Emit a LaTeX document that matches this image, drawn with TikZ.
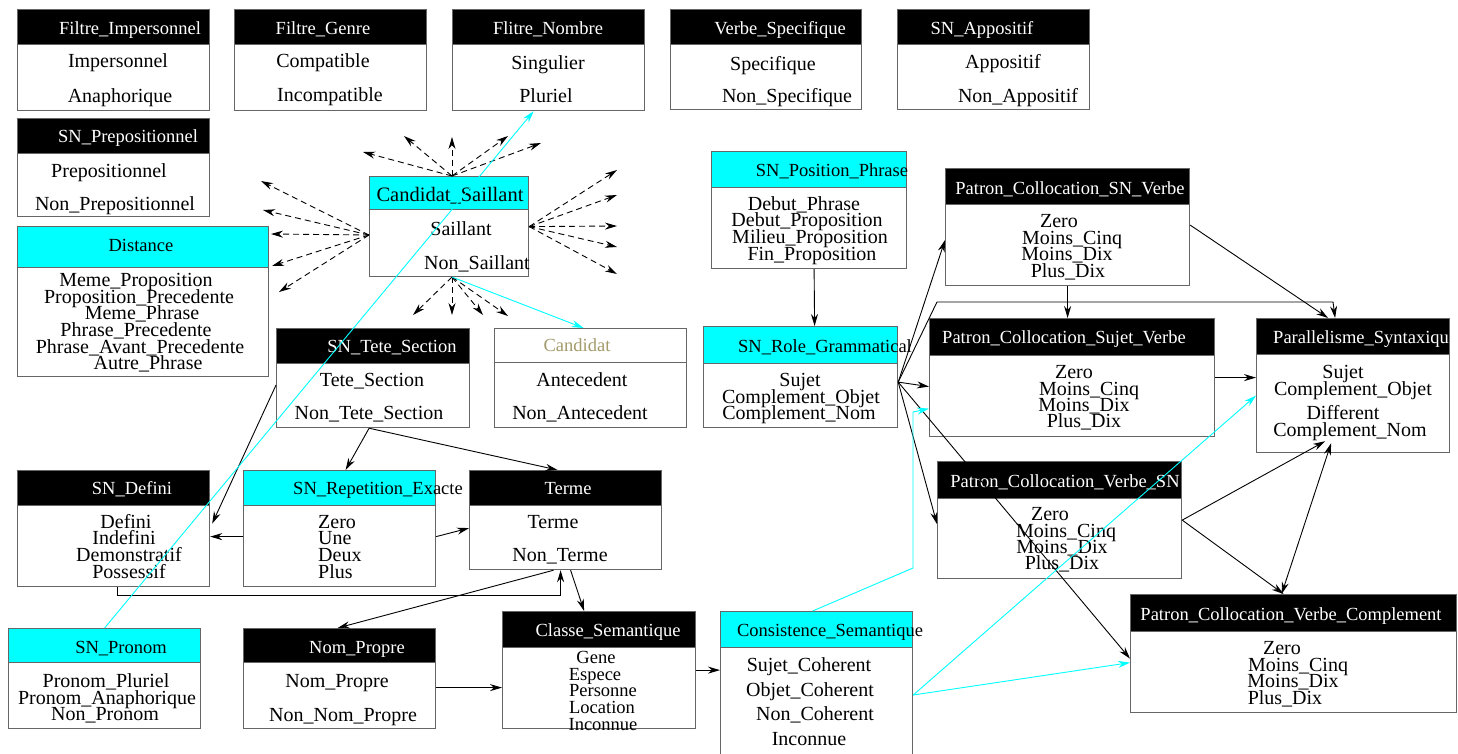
\documentclass[tikz,border=0pt]{standalone}
\usepackage{fontspec}
\setmainfont{Liberation Serif}
\usetikzlibrary{arrows.meta,calc}
\definecolor{candolive}{RGB}{163,155,107}
\definecolor{aqua}{RGB}{0,255,255}

% frame of one class box with its header band
\newcommand{\umlclass}[7]{%
  \node[boxframe, minimum width=#4, minimum height=#5] (#1) at (#2,#3) {};
  \node[#7, minimum width=#4, minimum height=#6] (#1-head) at (#2,#3) {};
}

\begin{document}
\begin{tikzpicture}[x=1pt,y=1pt,yscale=-1,
    boxframe/.style={draw=black!60,line width=1.2pt,fill=white,anchor=north west,inner sep=0pt},
    headblack/.style={boxframe,fill=black},
    headcyan/.style={boxframe,fill=aqua},
    headwhite/.style={boxframe,fill=white},
    title/.style={inner sep=0pt,font=\fontsize{18.5}{18.5}\selectfont,text height=17pt,text depth=4pt},
    titlew/.style={title,text=white},
    item/.style={inner sep=0pt,font=\fontsize{20}{20}\selectfont,text height=18pt,text depth=4pt},
    smallitem/.style={item,font=\fontsize{18.5}{18.5}\selectfont},
    link/.style={-{Stealth[length=12pt,width=7pt]},line width=0.9pt},
    cyanlink/.style={link,draw=aqua},
    fanlink/.style={link,dash pattern=on 6pt off 4pt},
  ]
  \useasboundingbox (0,0) rectangle (1458,753);

  %Shape: class boxes
  \umlclass{fimp}{17}{9}{192}{101}{35}{headblack}
  \umlclass{fgen}{234}{9}{192}{101}{35}{headblack}
  \umlclass{fnom}{452}{9}{192}{101}{35}{headblack}
  \umlclass{vspec}{670}{9}{191}{100}{35}{headblack}
  \umlclass{sapp}{897}{9}{192}{100}{35}{headblack}
  \umlclass{sprep}{17}{118}{192}{98}{35}{headblack}
  \umlclass{dist}{17}{226}{251}{150}{41}{headcyan}
  \umlclass{csail}{369}{176}{159}{100}{33}{headcyan}
  \umlclass{tete}{276}{328}{193}{99}{35}{headblack}
  \umlclass{cand}{494}{328}{192}{99}{34}{headwhite}
  \umlclass{defini}{17}{470}{192}{116}{35}{headblack}
  \umlclass{repet}{243}{470}{192}{116}{35}{headcyan}
  \umlclass{terme}{469}{470}{192}{99}{35}{headblack}
  \umlclass{pronom}{8}{628}{192}{100}{34}{headcyan}
  \umlclass{nompr}{243}{628}{192}{100}{34}{headblack}
  \umlclass{classe}{502}{611}{193}{117}{36}{headblack}
  \umlclass{consis}{720}{611}{192}{150}{36}{headcyan}
  \umlclass{spos}{711}{151}{195}{117}{36}{headcyan}
  \umlclass{role}{703}{326}{194}{101}{37}{headcyan}
  \umlclass{psnv}{945}{168}{244}{117}{36}{headblack}
  \umlclass{psv}{929}{318}{285}{118}{37}{headblack}
  \umlclass{para}{1256}{318}{193}{134}{36}{headblack}
  \umlclass{pvsn}{937}{461}{244}{117}{37}{headblack}
  \umlclass{pvc}{1130}{594}{326}{118}{37}{headblack}

  % Text Node
  \node[titlew] (fimp-t) at (130,28) {Filtre\_Impersonnel};
  \foreach \txt/\px/\py [count=\i] in {Impersonnel/118/60,Anaphorique/120/95}
    \node[item] (fimp-\i) at (\px,\py) {\txt};
  % Text Node
  \node[titlew] (fgen-t) at (323,28) {Filtre\_Genre};
  \foreach \txt/\px/\py [count=\i] in {Compatible/323/60,Incompatible/330/94}
    \node[item] (fgen-\i) at (\px,\py) {\txt};
  % Text Node
  \node[titlew] (fnom-t) at (548,28) {Flitre\_Nombre};
  \foreach \txt/\px/\py [count=\i] in {Singulier/548/62,Pluriel/546/95}
    \node[item] (fnom-\i) at (\px,\py) {\txt};
  % Text Node
  \node[titlew] (vspec-t) at (780,28) {Verbe\_Specifique};
  \foreach \txt/\px/\py [count=\i] in {Specifique/773/63,Non\_Specifique/787/95}
    \node[item] (vspec-\i) at (\px,\py) {\txt};
  % Text Node
  \node[titlew] (sapp-t) at (982,28) {SN\_Appositif};
  \foreach \txt/\px/\py [count=\i] in {Appositif/1003/61,Non\_Appositif/1018/95}
    \node[item] (sapp-\i) at (\px,\py) {\txt};
  % Text Node
  \node[titlew] (sprep-t) at (128,136) {SN\_Prepositionnel};
  \foreach \txt/\px/\py [count=\i] in {Prepositionnel/109/170,Non\_Prepositionnel/115/203}
    \node[item] (sprep-\i) at (\px,\py) {\txt};
  % Text Node
  \node[title] (dist-t) at (141,245) {Distance};
  \foreach \txt/\px/\py [count=\i] in {Meme\_Proposition/136/279,Proposition\_Precedente/139/296,
      Meme\_Phrase/142/312,Phrase\_Precedente/136/329,Phrase\_Avant\_Precedente/140/346,Autre\_Phrase/148/362}
    \node[item] (dist-\i) at (\px,\py) {\txt};
  % Text Node
  \node[item,font=\fontsize{20.5}{20.5}\selectfont] (csail-t) at (450,194) {Candidat\_Saillant};
  \foreach \txt/\px/\py [count=\i] in {Saillant/461/228,Non\_Saillant/477/262}
    \node[item] (csail-\i) at (\px,\py) {\txt};
  % Text Node
  \node[titlew] (tete-t) at (392,346) {SN\_Tete\_Section};
  \foreach \txt/\px/\py [count=\i] in {Tete\_Section/372/379,Non\_Tete\_Section/369/412}
    \node[item] (tete-\i) at (\px,\py) {\txt};
  % Text Node
  \node[title,text=candolive] (cand-t) at (577,345) {Candidat};
  \foreach \txt/\px/\py [count=\i] in {Antecedent/582/379,Non\_Antecedent/580/412}
    \node[item] (cand-\i) at (\px,\py) {\txt};
  % Text Node
  \node[titlew] (defini-t) at (132,488) {SN\_Defini};
  \foreach \txt/\px/\py [count=\i] in {Defini/126/521,Indefini/124/537,Demonstratif/129/554,Possessif/129/571}
    \node[item] (defini-\i) at (\px,\py) {\txt};
  % Text Node
  \node[title] (repet-t) at (378,488) {SN\_Repetition\_Exacte};
  \foreach \txt/\py [count=\i] in {Zero/521,Une/537,Deux/554,Plus/571}
    \node[item,anchor=west] (repet-\i) at (318,\py) {\txt};
  % Text Node
  \node[titlew] (terme-t) at (568,488) {Terme};
  \foreach \txt/\px/\py [count=\i] in {Terme/553/521,Non\_Terme/560/554}
    \node[item] (terme-\i) at (\px,\py) {\txt};
  % Text Node
  \node[title] (pronom-t) at (121,647) {SN\_Pronom};
  \foreach \txt/\px/\py [count=\i] in {Pronom\_Pluriel/106/680,Pronom\_Anaphorique/107/697,Non\_Pronom/105/713}
    \node[item] (pronom-\i) at (\px,\py) {\txt};
  % Text Node
  \node[titlew] (nompr-t) at (357,647) {Nom\_Propre};
  \foreach \txt/\px/\py [count=\i] in {Nom\_Propre/337/680,Non\_Nom\_Propre/343/714}
    \node[item] (nompr-\i) at (\px,\py) {\txt};
  % Text Node
  \node[titlew] (classe-t) at (608,630) {Classe\_Semantique};
  \foreach \txt/\px/\py [count=\i] in {Gene/596/656,Espece/595/673,Personne/603/689,Location/602/706,Inconnue/603/723}
    \node[smallitem] (classe-\i) at (\px,\py) {\txt};
  % Text Node
  \node[title] (consis-t) at (830,630) {Consistence\_Semantique};
  \foreach \txt/\px/\py [count=\i] in {Sujet\_Coherent/809/664,Objet\_Coherent/810/689,Non\_Coherent/815/713,Inconnue/809/738}
    \node[item] (consis-\i) at (\px,\py) {\txt};
  % Text Node
  \node[title] (spos-t) at (832,170) {SN\_Position\_Phrase};
  \foreach \txt/\px/\py [count=\i] in {Debut\_Phrase/804/203,Debut\_Proposition/807/219,Milieu\_Proposition/810/236,Fin\_Proposition/812/253}
    \node[item] (spos-\i) at (\px,\py) {\txt};
  % Text Node
  \node[title] (role-t) at (825,346) {SN\_Role\_Grammatical};
  \foreach \txt/\px/\py [count=\i] in {Sujet/800/379,Complement\_Objet/801/396,Complement\_Nom/799/412}
    \node[item] (role-\i) at (\px,\py) {\txt};
  % Text Node
  \node[titlew] (psnv-t) at (1070,188) {Patron\_Collocation\_SN\_Verbe};
  \foreach \txt/\px/\py [count=\i] in {Zero/1059/220,Moins\_Cinq/1072/237,Moins\_Dix/1067/253,Plus\_Dix/1068/270}
    \node[item] (psnv-\i) at (\px,\py) {\txt};
  % Text Node
  \node[titlew] (psv-t) at (1064,337) {Patron\_Collocation\_Sujet\_Verbe};
  \foreach \txt/\px/\py [count=\i] in {Zero/1074/371,Moins\_Cinq/1089/388,Moins\_Dix/1084/404,Plus\_Dix/1084/420}
    \node[item] (psv-\i) at (\px,\py) {\txt};
  % Text Node
  \node[titlew,anchor=west] (para-t) at (1273,337) {Parallelisme\_Syntaxiqu};
  \foreach \txt/\px/\py [count=\i] in {Sujet/1343/371,Complement\_Objet/1353/388,Different/1343/412,Complement\_Nom/1350/429}
    \node[item] (para-\i) at (\px,\py) {\txt};
  % Text Node
  \node[titlew] (pvsn-t) at (1065,481) {Patron\_Collocation\_Verbe\_SN};
  \foreach \txt/\px/\py [count=\i] in {Zero/1050/513,Moins\_Cinq/1066/530,Moins\_Dix/1062/546,Plus\_Dix/1062/562}
    \node[item] (pvsn-\i) at (\px,\py) {\txt};
  % Text Node
  \node[titlew] (pvc-t) at (1291,614) {Patron\_Collocation\_Verbe\_Complement};
  \foreach \txt/\px/\py [count=\i] in {Zero/1282/647,Moins\_Cinq/1298/664,Moins\_Dix/1293/680,Plus\_Dix/1285/697}
    \node[item] (pvc-\i) at (\px,\py) {\txt};

  %Dashed fans round Candidat_Saillant
  \coordinate (csail-top) at (452,176);
  \coordinate (csail-left) at (369,235);
  \coordinate (csail-bot) at (452,277);
  \foreach \px/\py [count=\i] in {363/152,404/136,452/137,508/136,541/143} {
    \coordinate (fantop-\i) at (\px,\py);
    \draw[fanlink] (csail-top) -- (fantop-\i);
  }
  \foreach \px/\py [count=\i] in {261/181,263/210,271/234,272/266,279/292} {
    \coordinate (fanleft-\i) at (\px,\py);
    \draw[fanlink] (csail-left) -- (fanleft-\i);
  }
  \foreach \px/\py [count=\i] in {617/170,617/195,617/226,617/247,617/274} {
    \coordinate (fanright-\i) at (\px,\py);
    \draw[fanlink] (csail.east) -- (fanright-\i);
  }
  \foreach \px/\py [count=\i] in {413/315,452/315,483/315,508/316} {
    \coordinate (fanbot-\i) at (\px,\py);
    \draw[fanlink] (csail-bot) -- (fanbot-\i);
  }

  %Straight Lines
  \coordinate (role-out) at ($(role.east)+(0,5)$);
  \coordinate (tete-out) at ($(tete.south)+(-4,0)$);
  \coordinate (nompr-out) at ($(nompr.east)+(0,9)$);
  \draw[link] ($(spos.south)+(5,0)$) -- ($(role.north)+(14,0)$);
  \draw[link] (role-out) -- ($(psnv.west)+(0,13)$);
  \draw[link] (role-out) -- (937,302) -- (1333,302) -- ($(para.north)+(-18,0)$);
  \draw[link] (role-out) -- ($(psv.west)+(0,9)$);
  \draw[link] (role-out) -- ($(pvsn.west)+(0,4)$);
  \draw[link] (role-out) -- ($(pvc.west)+(0,5)$);
  \draw[link] (psnv.south) -- (psnv.south |- psv.north);
  \draw[link] ($(psnv.east)+(0,-2)$) -- ($(para.north)+(-25,0)$);
  \draw[link] (psv.east) -- (para.west |- psv.east);
  \draw[link] (pvsn.east) -- ($(para.south)+(-28,-12)$);
  \draw[link] (pvsn.east) -- ($(pvc.north)+(-10,0)$);
  \draw[link,{Stealth[length=12pt,width=7pt]}-{Stealth[length=12pt,width=7pt]}] ($(pvc.north)+(-12,0)$) -- ($(para.south)+(-22,-10)$);
  \draw[link] (tete-out) -- ($(repet.north)+(6,0)$);
  \draw[link] (tete-out) -- ($(terme.north)+(-8,0)$);
  \draw[link] ($(tete.west)+(0,7)$) -- ($(defini.east)+(2,-5)$);
  \draw[link] ($(repet.west)+(0,8)$) -- ($(defini.east)+(0,8)$);
  \draw[link] ($(repet.east)+(0,8)$) -- ($(terme.west)+(0,8)$);
  \draw[link] ($(defini.south)+(4,0)$) -- ++(0,8) -| ($(terme.south)+(-5,0)$);
  \draw[link] ($(terme.south)+(-12,0)$) -- ($(nompr.north)+(-2,0)$);
  \draw[link] ($(terme.south)+(5,0)$) -- ($(classe.north)+(-15,0)$);
  \draw[link] (nompr-out) -- (classe.west |- nompr-out);
  \draw[link] (classe.east) -- (consis.west |- classe.east);

  %Cyan Lines
  \coordinate (consis-out) at ($(consis.north east)+(0,84)$);
  \draw[cyanlink] (pronom.north) -- ($(fnom.south)+(-15,0)$);
  \draw[cyanlink] (csail-bot) -- ($(cand.north)+(-7,0)$);
  \draw[cyanlink] ($(consis.north)+(-4,0)$) -- (913,568) -- (913,412) -- ($(psv.west)+(0,31)$);
  \draw[cyanlink] (consis-out) -- ($(para.west)+(0,10)$);
  \draw[cyanlink] (consis-out) -- ($(pvc.west)+(0,9)$);

\end{tikzpicture}
\end{document}
